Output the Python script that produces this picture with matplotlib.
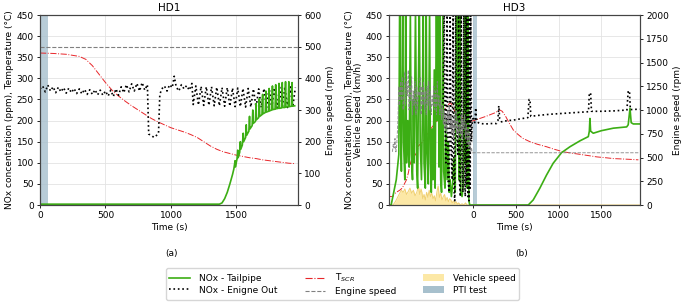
import matplotlib
matplotlib.use("Agg")
import matplotlib.pyplot as plt
from matplotlib.lines import Line2D
from matplotlib.patches import Patch

plt.rcParams['font.family'] = ['DejaVu Sans']
plt.rcParams['font.size'] = 6.5

# ---------------- HD1 ----------------
hd1_tscr_t = [0, 100, 200, 300, 350, 400, 450, 500, 550, 600, 650, 700, 750, 800, 850, 900, 950, 1000,
              1050, 1100, 1150, 1200, 1250, 1300, 1350, 1400, 1450, 1500, 1550, 1600, 1650, 1700, 1750,
              1800, 1850, 1900, 1950]
hd1_tscr = [360, 359, 357, 352, 345, 330, 310, 290, 272, 258, 246, 235, 225, 215, 205, 197, 190, 183,
            178, 173, 167, 160, 150, 140, 132, 126, 122, 118, 115, 112, 110, 107, 105,
            103, 101, 99, 98]

hd1_rpm_t = [0, 1970]
hd1_rpm = [500, 500]

hd1_eo_t = [0, 20, 40, 60, 80, 100, 120, 140, 160, 180, 200, 220, 240, 260, 280, 300, 320, 340, 360,
            380, 400, 420, 440, 460, 480, 500, 520, 540, 560, 580, 600, 620, 640, 660, 680, 700, 720,
            740, 760, 780, 800, 820, 830, 850, 870, 890, 905, 915, 930, 950, 970, 990, 1010, 1025,
            1040, 1060, 1080, 1100, 1120, 1140, 1160, 1170, 1190, 1210, 1230, 1250, 1270, 1290, 1310,
            1330, 1350, 1370, 1390, 1410, 1430, 1450, 1470, 1490, 1510, 1530, 1550, 1570, 1590, 1610,
            1630, 1650, 1670, 1690, 1710, 1730, 1750, 1770, 1790, 1810, 1830, 1850, 1870, 1890, 1910,
            1930, 1950]
hd1_eo = [275, 282, 268, 284, 270, 280, 266, 279, 268, 278, 265, 277, 266, 276, 264, 275, 263, 274, 262,
          273, 262, 273, 261, 272, 260, 270, 258, 272, 257, 275, 260, 280, 266, 285, 268, 287, 270,
          288, 270, 290, 272, 285, 168, 165, 160, 165, 170, 262, 275, 282, 270, 285, 278, 305,
          280, 270, 285, 275, 283, 272, 288, 238, 282, 237, 281, 236, 280, 236, 280,
          235, 279, 235, 278, 234, 278, 234, 277, 233, 277, 233, 276, 232, 276, 232,
          275, 231, 275, 231, 276, 231, 277, 230, 278, 230, 279, 230, 280, 231, 280,
          232, 278]

hd1_tp_t = [0, 1370, 1390, 1410, 1430, 1450, 1470, 1480, 1490, 1492, 1505, 1510, 1513, 1525, 1530, 1533,
            1545, 1552, 1555, 1570, 1575, 1578, 1595, 1600, 1603, 1620, 1625, 1628, 1645, 1650, 1653,
            1670, 1675, 1678, 1695, 1700, 1703, 1720, 1725, 1728, 1745, 1750, 1753, 1770, 1775, 1778,
            1795, 1800, 1803, 1820, 1825, 1828, 1845, 1850, 1853, 1870, 1875, 1878, 1895, 1900, 1903,
            1920, 1925, 1928, 1945]
hd1_tp = [2, 2, 5, 15, 30, 50, 72, 85, 105, 90, 110, 130, 112, 125, 150, 132,
          142, 170, 150, 160, 190, 165, 175, 210, 180, 188, 225, 193, 198, 240, 202,
          207, 252, 210, 214, 262, 216, 219, 270, 220, 222, 276, 223, 225, 282, 226,
          227, 285, 228, 229, 288, 229, 230, 290, 231, 231, 292, 232, 233, 292, 233,
          234, 290, 234, 235]

hd1_pti = (10, 62)

# ---------------- HD3 ----------------
hd3_tscr_t = [-985, -940, -930, -900, -860, -830, -800, -780, -760, -740, -720, -700, -680, -660, -640,
              -600, -560, -520, -490, -460, -420, -380, -340, -300, -280, -265, -250, -230, -210, -190,
              -170, -150, -130, -110, -90, -70, -50, -30, -10, 10, 40, 78, 150, 200, 250, 313, 340,
              380, 420, 469, 520, 580, 664, 750, 859, 950, 1055, 1150, 1250, 1350, 1446, 1550, 1641,
              1750, 1850, 1934]
hd3_tscr = [20, 20, 25, 30, 35, 40, 52, 60, 75, 95, 108, 115, 118, 125, 140,
            148, 160, 175, 182, 190, 200, 210, 225, 235, 240, 242, 238, 228, 220, 215,
            210, 208, 206, 205, 204, 203, 202, 200, 199, 200, 202, 205, 210, 214, 218, 225, 222,
            210, 195, 178, 168, 158, 150, 144, 138, 132, 126, 123, 120, 117, 114, 112, 110,
            109, 108, 107]

hd3_rpm_t = [-945, -935, -925, -915, -905, -895, -880, -870, -860, -850, -840, -830, -820, -810, -800,
             -790, -780, -770, -760, -750, -740, -730, -720, -710, -700, -690, -680, -670, -660, -650,
             -640, -630, -620, -610, -600, -590, -580, -570, -560, -550, -540, -530, -520, -510, -500,
             -490, -480, -470, -460, -450, -440, -430, -420, -410, -400, -390, -380, -370, -360, -350,
             -340, -330, -320, -310, -300, -290, -280, -270, -260, -250, -240, -230, -220, -210, -200,
             -190, -180, -170, -160, -150, -140, -130, -120, -110, -100, -90, -80, -70, -60, -50,
             -40, -30, -20, -10, 0, 1950]
hd3_rpm = [560, 640, 600, 700, 560, 620, 900, 1250, 1050, 1300, 1100, 1350, 1000, 1200, 1400,
           1050, 1300, 1150, 1420, 1000, 1250, 1100, 1350, 950, 1200, 1050, 1300, 950, 1250, 1000,
           1200, 1150, 1350, 950, 1250, 1050, 1300, 1000, 1200, 950, 1250, 1050, 1300, 1000, 1200,
           950, 1150, 1050, 1250, 1000, 1200, 950, 1300, 1050, 1150, 950, 1100, 900, 1050, 850,
           1000, 800, 950, 750, 1000, 850, 1050, 800, 950, 750, 900, 700, 950, 800, 1000,
           750, 900, 700, 850, 750, 950, 700, 900, 800, 950, 700, 850, 650, 800, 600,
           750, 560, 600, 550, 550, 550]

hd3_eo_t = [-360, -350, -340, -330, -320, -305, -295, -280, -270, -260, -245, -235, -225, -215, -205,
            -195, -180, -170, -160, -150, -140, -130, -120, -110, -100, -92, -85, -78, -70, -62, -55,
            -48, -42, -35, -28, -20, -10, 0, 20, 30, 40, 60, 78, 150, 200, 273, 290, 300, 310, 332,
            400, 469, 550, 640, 655, 665, 675, 750, 900, 1050, 1200, 1350, 1360, 1375, 1385, 1500,
            1650, 1800, 1815, 1830, 1840, 1950]
hd3_eo = [230, 250, 480, 200, 100, 470, 60, 30, 480, 150, 60, 470, 40, 10, 480,
          180, 120, 470, 60, 20, 470, 100, 30, 480, 60, 20, 470, 50, 480, 20, 470,
          10, 460, 40, 470, 150, 200, 205, 195, 230, 200, 195, 193, 192, 193, 193, 200, 235, 205, 197,
          200, 201, 204, 207, 250, 250, 210, 212, 215, 217, 219, 221, 265, 265, 222, 222,
          223, 225, 270, 270, 226, 227]

hd3_tp_t = [-985, -960, -930, -900, -880, -870, -860, -850, -840, -825, -815, -800, -790, -780, -765,
            -750, -735, -725, -710, -700, -690, -675, -660, -650, -640, -630, -620, -605, -595, -585,
            -575, -560, -550, -540, -525, -510, -500, -490, -480, -470, -455, -445, -430, -420, -410,
            -400, -390, -380, -370, -355, -345, -330, -315, -305, -290, -280, -270, -255, -240, -225,
            -210, -195, -185, -175, -165, -155, -145, -130, -115, -100, -90, -80, -70, -60, -50, -40,
            0, 645, 703, 781, 859, 937, 1035, 1133, 1250, 1348, 1360, 1367, 1375, 1406, 1500, 1641,
            1797, 1815, 1836, 1850, 1875, 1950]
hd3_tp = [0, 0, 30, 60, 100, 120, 500, 200, 80, 500, 150, 60, 480, 100, 200,
          90, 460, 120, 60, 250, 100, 470, 80, 40, 300, 500, 150, 60, 200, 480,
          100, 40, 490, 130, 50, 470, 100, 30, 180, 60, 320, 40, 500, 200, 480,
          90, 460, 60, 30, 470, 80, 40, 200, 60, 150, 30, 60, 20, 50, 110,
          30, 480, 200, 500, 60, 470, 30, 20, 50, 480, 100, 500, 40, 470, 10, 0,
          0, 0, 12, 40, 71, 99, 124, 138, 152, 162, 175, 205, 175, 170, 176, 182,
          185, 190, 229, 195, 192, 192]

hd3_vs_t = [-985, -940, -920, -900, -880, -860, -840, -820, -800, -780, -760, -740, -720, -700, -680,
            -660, -640, -625, -610, -600, -590, -575, -560, -545, -530, -515, -500, -485, -470, -455,
            -440, -425, -410, -395, -380, -365, -350, -335, -320, -305, -290, -275, -260, -245, -230,
            -215, -200, -185, -170, -150, -130, -110, -90, -70, -60, 1950]
hd3_vs = [0, 0, 5, 12, 20, 28, 35, 30, 38, 25, 32, 40, 28, 35, 22,
          30, 45, 25, 38, 30, 15, 25, 12, 30, 18, 35, 20, 28, 15, 22,
          10, 30, 45, 18, 28, 12, 20, 25, 10, 18, 8, 15, 12, 5, 10,
          3, 8, 2, 5, 0, 3, 0, 5, 0, 0, 0]

hd3_pti = (-5, 50)

c_tp = '#3cae14'
c_eo = 'black'
c_tscr = '#e8262a'
c_rpm = '#808080'
c_vs = '#fce8a6'
c_vs_edge = '#f0d072'
c_pti = '#a7c0cd'

fig = plt.figure(figsize=(6.85, 3.03), dpi=100)
ax1 = fig.add_axes([0.0584, 0.3234, 0.3766, 0.627])
ax3 = fig.add_axes([0.5679, 0.3234, 0.3664, 0.627])


def style(ax):
    ax.grid(True, color='#e3e3e3', lw=0.6)
    ax.set_axisbelow(True)
    for s in ax.spines.values():
        s.set_color('#444444')
        s.set_linewidth(0.8)
    ax.tick_params(length=2.5, width=0.6, pad=2)


# HD1
style(ax1)
ax1.axvspan(*hd1_pti, color=c_pti, alpha=0.8, lw=0)
ax1.plot(hd1_tscr_t, hd1_tscr, color=c_tscr, ls='-.', lw=0.7)
ax1.plot(hd1_eo_t, hd1_eo, color=c_eo, ls=':', lw=1.2)
ax1.plot(hd1_tp_t, hd1_tp, color=c_tp, lw=1.2)
ax1.set_xlim(0, 1970)
ax1.set_ylim(0, 450)
ax1.set_yticks(range(0, 451, 50))
ax1.set_xticks([0, 500, 1000, 1500])
ax1.set_xlabel('Time (s)', labelpad=2)
ax1.set_ylabel('NOx concentration (ppm), Temperature (°C)', labelpad=2)
ax1.set_title('HD1', fontsize=7.5, pad=3)
ax1b = ax1.twinx()
ax1b.plot(hd1_rpm_t, hd1_rpm, color=c_rpm, ls='--', lw=0.8)
ax1b.set_ylim(0, 600)
ax1b.set_yticks(range(0, 601, 100))
ax1b.set_ylabel('Engine speed (rpm)', labelpad=3)
ax1b.tick_params(length=2.5, width=0.6, pad=2)
for s in ax1b.spines.values():
    s.set_color('#444444')
    s.set_linewidth(0.8)

# HD3
style(ax3)
ax3.axvspan(*hd3_pti, color=c_pti, alpha=0.8, lw=0)
ax3.fill_between(hd3_vs_t, hd3_vs, color=c_vs, lw=0)
ax3.plot(hd3_vs_t, hd3_vs, color=c_vs_edge, lw=0.7)
ax3.plot(hd3_tscr_t, hd3_tscr, color=c_tscr, ls='-.', lw=0.7)
ax3.plot(hd3_tp_t, hd3_tp, color=c_tp, lw=1.2)
ax3.plot(hd3_eo_t, hd3_eo, color=c_eo, ls=':', lw=1.2)
ax3.set_xlim(-985, 1953)
ax3.set_ylim(0, 450)
ax3.set_yticks(range(0, 451, 50))
ax3.set_xticks([0, 500, 1000, 1500])
ax3.set_xlabel('Time (s)', labelpad=2)
ax3.set_ylabel('NOx concentration (ppm), Temperature (°C)\nVehicle speed (km/h)', labelpad=2,
               linespacing=1.0)
ax3.set_title('HD3', fontsize=7.5, pad=3)
ax3b = ax3.twinx()
ax3b.plot(hd3_rpm_t, hd3_rpm, color=c_rpm, ls='--', lw=0.65, alpha=0.9)
ax3b.set_ylim(0, 2000)
ax3b.set_yticks(range(0, 2001, 250))
ax3b.set_ylabel('Engine speed (rpm)', labelpad=3)
ax3b.tick_params(length=2.5, width=0.6, pad=2)
for s in ax3b.spines.values():
    s.set_color('#444444')
    s.set_linewidth(0.8)

fig.text(0.25, 0.165, '(a)', ha='center', va='center', fontsize=6.5)
fig.text(0.762, 0.165, '(b)', ha='center', va='center', fontsize=6.5)

handles = [
    Line2D([], [], color=c_tp, lw=1.2),
    Line2D([], [], color=c_eo, ls=':', lw=1.2),
    Line2D([], [], color=c_tscr, ls='-.', lw=0.8),
    Line2D([], [], color=c_rpm, ls='--', lw=0.8),
    Patch(facecolor=c_vs, edgecolor='none'),
    Patch(facecolor=c_pti, edgecolor='none'),
]
labels = ['NOx - Tailpipe', 'NOx - Enigne Out', 'T$_{SCR}$', 'Engine speed',
          'Vehicle speed', 'PTI test']
fig.legend(handles, labels, ncol=3, loc='center', bbox_to_anchor=(0.5, 0.063),
           fontsize=6.5, frameon=True, edgecolor='#cccccc', fancybox=True,
           handlelength=2.3, columnspacing=3.0, handletextpad=1.0, borderpad=0.4,
           labelspacing=0.3)

fig.savefig('out.png', dpi=100)
